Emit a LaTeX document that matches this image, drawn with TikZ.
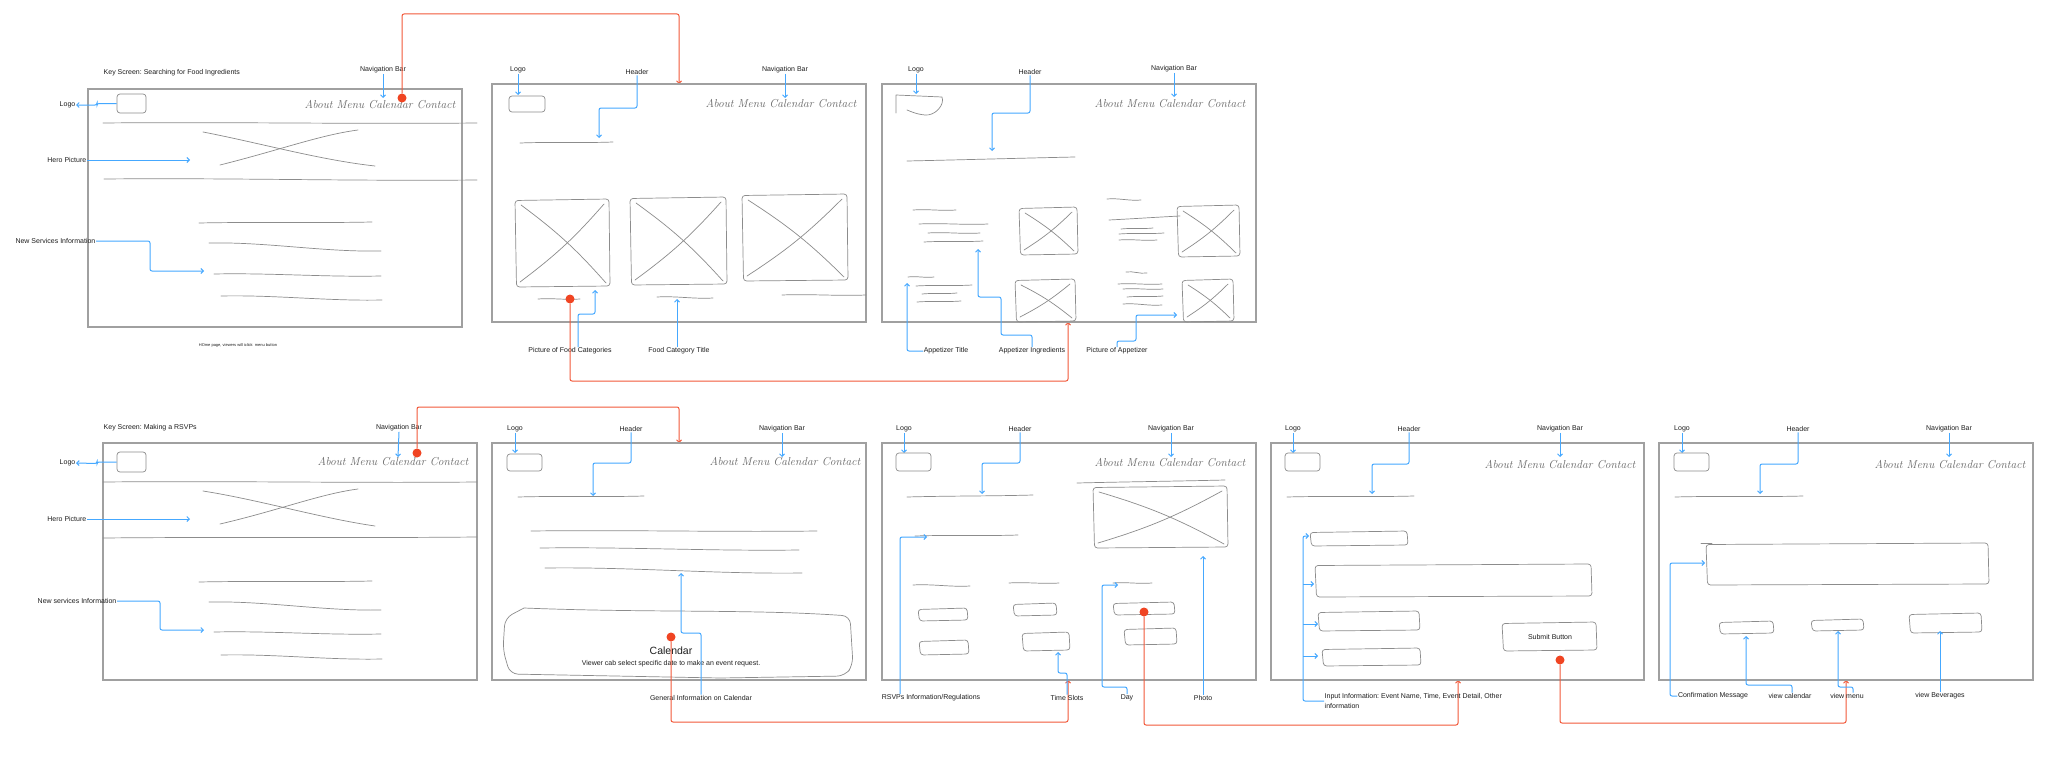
\documentclass[tikz,border=0pt]{standalone}
\usepackage{fontspec}
\newfontfamily\lab{Liberation Sans}
\usetikzlibrary{arrows.meta}
\frenchspacing
\definecolor{bluec}{HTML}{45A8FF}
\definecolor{redc}{HTML}{F2593A}
\definecolor{dotc}{HTML}{F04422}
\definecolor{skc}{HTML}{8C8C8C}
\definecolor{framec}{HTML}{A0A0A0}
\definecolor{txtc}{HTML}{1E1E1E}
\newcommand\myWl[4]{\draw[sk] (#1,#2) .. controls ({(2*#1+#3)/3},{#2-1.2}) and ({(#1+2*#3)/3},{#4+1.2}) .. (#3,#4);}
\newcommand\mySkBox[4]{\draw[sk,rounded corners=3pt] ({#1},{#2+1.5}) -- ({#3-1},{#2}) -- ({#3},{#4-1}) -- ({#1+1.5},{#4}) -- cycle;}
\newcommand\mySkPic[4]{\mySkBox{#1}{#2}{#3}{#4}\draw[sk] ({#1+6},{#2+6}) to[bend left=6] ({#3-4},{#4-4}); \draw[sk] ({#1+5},{#4-5}) to[bend right=6] ({#3-6},{#2+5});}
\newcommand\myHand{About Menu Calendar Contact}
\begin{document}
\frenchspacing
\begin{tikzpicture}[x=1pt,y=-1pt,
  frame/.style={draw=framec,line width=1.1pt},
  sk/.style={draw=skc,line width=0.7pt,line cap=round,line join=round},
  lbl/.style={font=\lab\fontsize{7}{8.4}\selectfont,text=txtc,inner sep=0.5pt},
  hand/.style={font=\itshape\fontsize{11.5}{12}\selectfont,text=black!60,inner sep=0pt},
  bl/.style={draw=bluec,line width=1pt,rounded corners=2pt,-{Straight Barb[length=2.5pt,width=5pt]}},
  rd/.style={draw=redc,line width=1pt,rounded corners=2pt,-{Straight Barb[length=2.5pt,width=5pt]}},
  rdot/.style={circle,fill=dotc,minimum size=9pt,inner sep=0pt},
  lbox/.style={sk,rounded corners=3pt}
]
\useasboundingbox[fill=white] (0,0) rectangle (2048,768);

%================ ROW 1 =================
% --- A1
\draw[frame] (88,89) rectangle (462,327);
\node[lbl,anchor=west] (a1t) at (103,73) {Key Screen: Searching for Food Ingredients};
\node[lbl] (a1nav) at (383,70) {Navigation Bar};
\node[hand] (a1h) at (380,105) {\myHand};
\node[lbox,minimum width=29,minimum height=19] (a1lb) at (131.5,103.5) {};
\node[lbl,anchor=east] (a1logo) at (76,105) {Logo};
\draw[bl] (a1lb.west) -- (97,103.5) -- (97,105) -- (a1logo.east);
\draw[bl] (a1nav.south) -- (383,98);
\myWl{103}{123}{477}{123}
\myWl{104}{179}{477}{180}
\draw[sk] (203,132) .. controls (260,143) and (320,160) .. (375,166);
\draw[sk] (220,165) .. controls (280,150) and (320,135) .. (358,130);
\node[lbl,anchor=east] (a1hero) at (87,160) {Hero Picture};
\draw[bl] (a1hero.east) -- (190,160);
\myWl{199}{223}{372}{222}
\myWl{209}{243}{381}{251}
\myWl{214}{274}{381}{276}
\myWl{221}{296}{382}{300}
\node[lbl,anchor=east] (a1news) at (96,241) {New Services Information};
\draw[bl] (a1news.east) -- (150,241) -- (150,271) -- (204,271);
\node[lbl,font=\lab\fontsize{4}{5}\selectfont] (a1note) at (238,345) {HOme page, viewers will iclick\ \ menu button};
\coordinate (b1top) at (679,84);
\node[rdot] (r1) at (402,98) {};
\draw[rd] (r1) -- (402,14) -- (679,14) -- (b1top);

% --- B1
\draw[frame] (492,84) rectangle (866,322);
\node[lbl] (b1logo) at (518,70) {Logo};
\node[lbox,minimum width=36,minimum height=16] (b1lb) at (527,104) {};
\draw[bl] (b1logo.south) -- (518,95);
\node[lbl] (b1hdr) at (637,72) {Header};
\draw[bl] (b1hdr.south) -- (637,108) -- (599,108) -- (599,138);
\myWl{520}{143}{613}{142}
\node[lbl] (b1nav) at (785,70) {Navigation Bar};
\draw[bl] (b1nav.south) -- (785,98);
\node[hand] at (781,104) {\myHand};
\mySkPic{515}{199}{610}{287}
\mySkPic{630}{197}{727}{285}
\mySkPic{742}{194}{848}{281}
\myWl{538}{299}{580}{299}
\myWl{657}{297}{713}{298}
\myWl{782}{295}{866}{295}
\node[lbl] (b1pic) at (570,351) {Picture of Food Categories};
\draw[bl] ([xshift=8pt]b1pic.north) -- (578,314) -- (595,314) -- (595,290);
\node[lbl] (b1cat) at (679,351) {Food Category Title};
\draw[bl] ([xshift=-2pt]b1cat.north) -- (677,299);
\coordinate (c1bot) at (1068,322);
\node[rdot] (r2) at (570,299) {};
\draw[rd] (r2) -- (570,381) -- (1068,381) -- (c1bot);

% --- C1
\draw[frame] (882,84) rectangle (1256,322);
\node[lbl] (c1logo) at (916,70) {Logo};
\draw[bl] (c1logo.south) -- (916,94);
\draw[sk] (896,113) -- (896,95) -- (942,97) .. controls (945,105) and (935,116) .. (925,115) .. controls (915,114) and (910,111) .. (907,110);
\node[lbl] (c1hdr) at (1030,72) {Header};
\draw[bl] (c1hdr.south) -- (1030,113) -- (992,113) -- (992,151);
\myWl{907}{161}{1075}{157}
\node[lbl] (c1nav) at (1174,69) {Navigation Bar};
\draw[bl] (c1nav.south) -- (1174,97);
\node[hand] at (1170,104) {\myHand};
\myWl{913}{210}{956}{210}
\myWl{919}{224}{988}{224}
\myWl{928}{233}{980}{233}
\myWl{924}{242}{983}{241}
\mySkPic{1019}{207}{1078}{255}
\myWl{1107}{199}{1141}{200}
\myWl{1109}{220}{1180}{216}
\myWl{1121}{229}{1153}{228}
\myWl{1119}{234}{1164}{233}
\myWl{1119}{240}{1157}{240}
\mySkPic{1177}{205}{1240}{257}
\myWl{908}{277}{934}{277}
\myWl{916}{286}{972}{285}
\myWl{922}{294}{957}{293}
\myWl{917}{302}{961}{301}
\mySkPic{1015}{279}{1076}{322}
\myWl{1126}{272}{1147}{273}
\myWl{1118}{284}{1162}{284}
\myWl{1123}{289}{1163}{289}
\myWl{1127}{297}{1163}{296}
\myWl{1123}{304}{1162}{305}
\mySkPic{1182}{279}{1234}{322}
\node[lbl] (c1at) at (946,351) {Appetizer Title};
\draw[bl] (c1at.west) -- (907,351) -- (907,283);
\node[lbl] (c1ai) at (1032,351) {Appetizer Ingredients};
\draw[bl] (c1ai.north) -- (1032,335) -- (1001,335) -- (1001,297) -- (978,297) -- (978,249);
\node[lbl] (c1pa) at (1117,351) {Picture of Appetizer};
\draw[bl] (c1pa.north) -- (1117,341) -- (1136,341) -- (1136,315) -- (1177,315);

%================ ROW 2 =================
% --- A2
\draw[frame] (103,443) rectangle (477,680);
\node[lbl,anchor=west] (a2t) at (103,428) {Key Screen: Making a RSVPs};
\node[lbl] (a2nav) at (399,428) {Navigation Bar};
\draw[bl] (a2nav.south) -- (398,457);
\node[hand] at (393,462) {\myHand};
\node[lbox,minimum width=29,minimum height=20] (a2lb) at (131.5,462) {};
\node[lbl,anchor=east] (a2logo) at (76,463) {Logo};
\draw[bl] (a2lb.west) -- (97,462) -- (97,463.5) -- (a2logo.east);
\myWl{103}{482}{477}{482}
\myWl{103}{538}{477}{537}
\draw[sk] (203,491) .. controls (260,500) and (320,518) .. (375,526);
\draw[sk] (220,524) .. controls (280,510) and (320,494) .. (358,489);
\node[lbl,anchor=east] (a2hero) at (87,519) {Hero Picture};
\draw[bl] (a2hero.east) -- (190,519);
\myWl{199}{582}{372}{581}
\myWl{209}{602}{381}{610}
\myWl{214}{632}{381}{634}
\myWl{221}{655}{382}{659}
\node[lbl,anchor=east] (a2news) at (117,601) {New services Information};
\draw[bl] (a2news.east) -- (160,601) -- (160,630) -- (204,630);
\coordinate (b2top) at (679,443);
\node[rdot] (r3) at (417,453) {};
\draw[rd] (r3) -- (417,407) -- (679,407) -- (b2top);

% --- B2
\draw[frame] (492,443) rectangle (866,680);
\node[lbl] (b2logo) at (515,429) {Logo};
\draw[bl] (b2logo.south) -- (515,453);
\node[lbox,minimum width=35,minimum height=17] (b2lb) at (524.5,462.5) {};
\node[lbl] (b2hdr) at (631,429) {Header};
\draw[bl] (b2hdr.south) -- (631,463) -- (593,463) -- (593,496);
\myWl{518}{497}{644}{496}
\node[lbl] (b2nav) at (782,429) {Navigation Bar};
\draw[bl] (b2nav.south) -- (782,457);
\node[hand] at (785,462) {\myHand};
\myWl{531}{531}{817}{531}
\myWl{540}{548}{799}{550}
\myWl{545}{568}{802}{573}
\draw[sk,rounded corners=8pt] (524,608) .. controls (650,613) and (750,609) .. (850,616) -- (853,665) -- (845,676) -- (720,678) -- (510,674) -- (503,650) -- (505,618) -- (524,608);
\node[font=\lab\fontsize{10.5}{12}\selectfont,text=txtc,inner sep=0.5pt] (b2cal) at (671,651) {Calendar};
\node[lbl] (b2calt) at (671,664) {Viewer cab select specific date to make an event request.};
\node[lbl] (b2gen) at (701,698) {General Information on Calendar};
\draw[bl] (b2gen.north) -- (701,633) -- (681,633) -- (681,573);
\coordinate (c2bot) at (1068,680);
\node[rdot] (r4) at (671,637) {};
\draw[rd] (r4) -- (671,722) -- (1068,722) -- (c2bot);

% --- C2
\draw[frame] (882,443) rectangle (1256,680);
\node[lbl] (c2logo) at (904,429) {Logo};
\draw[bl] (c2logo.south) -- (904,453);
\node[lbox,minimum width=35,minimum height=18] (c2lb) at (913.5,462) {};
\node[lbl] (c2hdr) at (1020,429) {Header};
\draw[bl] (c2hdr.south) -- (1020,463) -- (982,463) -- (982,494);
\myWl{907}{497}{1033}{495}
\node[lbl] (c2nav) at (1171,429) {Navigation Bar};
\draw[bl] (c2nav.south) -- (1171,457);
\node[hand] at (1170,463) {\myHand};
\myWl{1077}{483}{1225}{480}
\mySkPic{1093}{486}{1228}{548}
\myWl{915}{536}{1018}{535}
\myWl{913}{585}{970}{586}
\myWl{1009}{583}{1059}{583}
\myWl{1113}{583}{1152}{583}
\mySkBox{918}{608}{968}{621}
\mySkBox{1013}{603}{1057}{616}
\mySkBox{1113}{602}{1175}{615}
\mySkBox{919}{640}{969}{655}
\mySkBox{1022}{632}{1070}{651}
\mySkBox{1124}{628}{1177}{645}
\node[lbl] (c2rsvp) at (931,698) {RSVPs Information/Regulations};
\draw[bl] ([xshift=-31pt]c2rsvp.north) -- (900,537) -- (927,537);
\node[lbl] (c2ts) at (1067,698) {Time Slots};
\draw[bl] (c2ts.north) -- (1067,673) -- (1058,673) -- (1058,652);
\node[lbl] (c2day) at (1127,698) {Day};
\draw[bl] (c2day.north) -- (1127,687) -- (1102,687) -- (1102,585) -- (1118,585);
\node[lbl] (c2ph) at (1203,698) {Photo};
\draw[bl] (c2ph.north) -- (1203,556);
\coordinate (d2bot) at (1458,680);
\node[rdot] (r5) at (1144,612) {};
\draw[rd] (r5) -- (1144,725) -- (1458,725) -- (d2bot);

% --- D2
\draw[frame] (1271,443) rectangle (1644,680);
\node[lbl] (d2logo) at (1293,429) {Logo};
\draw[bl] (d2logo.south) -- (1293,453);
\node[lbox,minimum width=35,minimum height=18] (d2lb) at (1302.5,462) {};
\node[lbl] (d2hdr) at (1409,429) {Header};
\draw[bl] (d2hdr.south) -- (1409,464) -- (1372,464) -- (1372,494);
\myWl{1287}{497}{1414}{496}
\node[lbl] (d2nav) at (1560,429) {Navigation Bar};
\draw[bl] (d2nav.south) -- (1560,457);
\node[hand] at (1560,465) {\myHand};
\mySkBox{1310}{531}{1408}{546}
\mySkBox{1315}{564}{1592}{597}
\mySkBox{1318}{611}{1420}{631}
\mySkBox{1322}{648}{1421}{666}
\mySkBox{1502}{622}{1597}{651}
\node[lbl] (d2sub) at (1550,637) {Submit Button};
\node[lbl,anchor=west,align=left,font=\lab\fontsize{7}{10}\selectfont] (d2in) at (1324,701) {Input Information: Event Name, Time, Event Detail, Other\\information};
\draw[bl] (d2in.west) -- (1303,701) -- (1303,536) -- (1309,536);
\draw[bl] (1303,584) -- (1314,584);
\draw[bl] (1303,624) -- (1318,624);
\draw[bl] (1303,656) -- (1318,656);
\coordinate (e2bot) at (1846,680);
\node[rdot] (r6) at (1560,660) {};
\draw[rd] (r6) -- (1560,723) -- (1846,723) -- (e2bot);

% --- E2
\draw[frame] (1659,443) rectangle (2033,680);
\node[lbl] (e2logo) at (1682,429) {Logo};
\draw[bl] (e2logo.south) -- (1682,453);
\node[lbox,minimum width=35,minimum height=18] (e2lb) at (1691.5,462) {};
\node[lbl] (e2hdr) at (1798,429) {Header};
\draw[bl] (e2hdr.south) -- (1798,464) -- (1760,464) -- (1760,494);
\myWl{1675}{497}{1803}{496}
\node[lbl] (e2nav) at (1949,429) {Navigation Bar};
\draw[bl] (e2nav.south) -- (1949,457);
\node[hand] at (1950,465) {\myHand};
\mySkBox{1706}{543}{1989}{585}
\draw[sk] (1701,543) -- (1712,543);
\mySkBox{1719}{621}{1774}{634}
\mySkBox{1811}{619}{1864}{631}
\mySkBox{1909}{613}{1982}{633}
\node[lbl] (e2conf) at (1713,696) {Confirmation Message};
\draw[bl] (e2conf.west) -- (1670,696) -- (1670,563) -- (1705,563);
\node[lbl] (e2vc) at (1790,696) {view calendar};
\draw[bl] ([xshift=2pt]e2vc.north) -- (1792,685) -- (1746,685) -- (1746,636);
\node[lbl] (e2vm) at (1847,696) {view menu};
\draw[bl] ([xshift=6pt]e2vm.north) -- (1853,687) -- (1838,687) -- (1838,631);
\node[lbl] (e2vb) at (1940,696) {view Beverages};
\draw[bl] (e2vb.north) -- (1940,631);
\end{tikzpicture}
\end{document}
